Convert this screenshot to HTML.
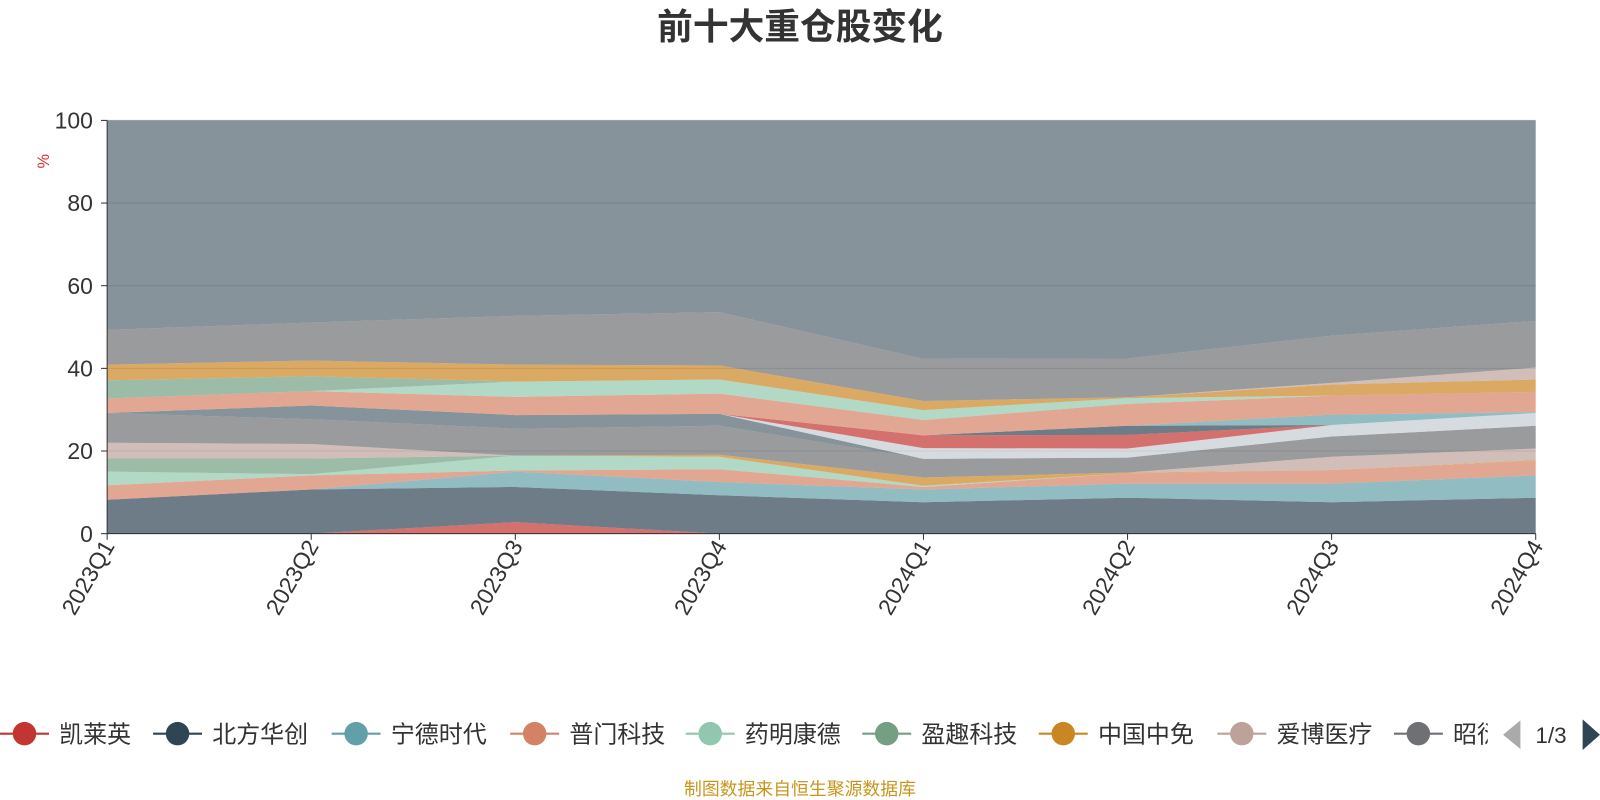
<!DOCTYPE html>
<html><head><meta charset="utf-8">
<style>
body{margin:0;width:1600px;height:800px;background:#fff;overflow:hidden;font-family:"Liberation Sans","Noto Sans CJK SC",sans-serif;}
svg{position:absolute;left:0;top:0}
</style></head>
<body>
<svg id="chart" width="1600" height="800">
<g transform="scale(1.0204)">
<text x="784" y="38" text-anchor="middle" font-size="35" font-weight="bold" fill="#333">前十大重仓股变化</text>
<text x="0" y="0" transform="translate(48,158) rotate(-90)" text-anchor="middle" font-size="16" fill="#e03030">%</text>
<g id="grid"></g>
<g id="areas"></g>
<g id="axes"></g>
<g id="legend"></g>
<text x="784" y="779" text-anchor="middle" font-size="17.5" fill="#c8961e">制图数据来自恒生聚源数据库</text>
</g>
</svg>
<script>
const categories=["2023Q1","2023Q2","2023Q3","2023Q4","2024Q1","2024Q2","2024Q3","2024Q4"];
const yTicks=[0,20,40,60,80,100];
const seriesNames=["凯莱英","北方华创","宁德时代","普门科技","药明康德","盈趣科技","中国中免","爱博医疗","昭衍新药","股票10","股票11","股票12","股票13","股票14","股票15","股票16","股票17","股票18","股票19","股票20","其他"];
const s1=[0,0,2.8,0,0,0,0,0];
const s2=[8.2,10.7,8.5,9.3,7.6,8.7,7.6,8.7];
const s3=[0,0,3.7,3.2,3.1,3.4,4.5,5.4];
const s4=[3.5,3.4,0.3,3.1,0.6,2.5,3.3,3.5];
const s5=[3.3,0.3,3.6,3.0,0.3,0,0,0];
const s6=[3.2,3.8,0,0,0,0,0,0];
const s7=[0,0,0,0.5,2.0,0.2,0,0.2];
const s8=[3.8,3.5,0,0,0,0,3.2,2.8];
const s9=[7.2,6.0,6.5,7.0,4.5,3.6,4.9,5.5];
const s10=[0,3.3,3.3,2.9,0,0,0,0];
const s11=[0,0,0,0,2.6,2.2,2.8,3.1];
const s12=[0,0,0,0,3.1,3.3,0,0];
const s13=[0,0,0,0,0,2.2,0,0];
const s14=[0,0,0,0,0,0,2.5,0.2];
const s15=[3.5,3.5,4.4,4.9,3.7,5.3,4.6,4.9];
const s16=[0,0,3.7,3.4,2.4,1.4,0,0];
const s17=[4.4,3.6,0,0,0,0,0,0];
const s18=[3.8,3.8,4.1,3.4,2.2,0.2,2.7,3.0];
const s19=[0,0,0,0,0,0,0.4,2.9];
const s20=[8.4,9.2,11.8,12.9,10.2,9.4,11.4,11.3];
const s21=[50.7,48.9,47.3,46.4,57.7,57.6,52.1,48.5];
const seriesValues=[s1,s2,s3,s4,s5,s6,s7,s8,s9,s10,s11,s12,s13,s14,s15,s16,s17,s18,s19,s20,s21];
const palette=["#c23531","#2f4554","#61a0a8","#d48265","#91c7ae","#749f83","#ca8622","#bda29a","#6e7074","#546570","#c4ccd3"];
const NS="http://www.w3.org/2000/svg";
const X0=105,X1=1505,Y0=523,Y1=118;
function xs(i){return X0+i*(X1-X0)/(categories.length-1);}
function ys(v){return Y0-(v/100)*(Y0-Y1);}
function mk(tag,attrs,parent){const e=document.createElementNS(NS,tag);for(const k in attrs)e.setAttribute(k,attrs[k]);parent.appendChild(e);return e;}
const grid=document.getElementById('grid'),areas=document.getElementById('areas'),axes=document.getElementById('axes'),legend=document.getElementById('legend');
yTicks.forEach(t=>{
  const l=mk('line',{x1:X0,x2:X1,y1:ys(t),y2:ys(t),stroke:'#ccc','stroke-width':1},grid);
  
  
  const tx=mk('text',{x:X0-14,y:ys(t)+8,'text-anchor':'end','font-size':22.5,fill:'#333'},axes);
  tx.textContent=t;
  
  
  const tk=mk('line',{x1:X0-6,x2:X0,y1:ys(t),y2:ys(t),stroke:'#333','stroke-width':1},axes);
  
  
});
let base=categories.map(()=>0);
seriesValues.forEach((vals,si)=>{
  const top=vals.map((v,i)=>base[i]+v);
  let d='M'+categories.map((c,i)=>xs(i)+','+ys(top[i])).join(' L');
  for(let i=categories.length-1;i>=0;i--)d+=' L'+xs(i)+','+ys(base[i]);
  d+=' Z';
  const p=mk('path',{d:d,fill:palette[si%palette.length],'fill-opacity':0.7,stroke:'none'},areas);
  
  
  base=top;
});
const ax=mk('line',{x1:X0,x2:X0,y1:Y1,y2:Y0,stroke:'#333','stroke-width':1},axes);


const bx=mk('line',{x1:X0,x2:X1,y1:Y0,y2:Y0,stroke:'#333','stroke-width':1},axes);


categories.forEach((c,i)=>{
  const tk=mk('line',{x1:xs(i),x2:xs(i),y1:Y0,y2:Y0+6,stroke:'#333'},axes);
  
  
  const t=mk('text',{x:0,y:0,transform:'translate('+(xs(i)+8)+','+(Y0+12)+') rotate(-60)','text-anchor':'end','font-size':22.5,fill:'#333'},axes);
  t.textContent=c;
  
  
});
const lx=[0,150,325,500,672,845,1018,1193,1366];
const clip=mk('clipPath',{id:'lgclip'},legend);
mk('rect',{x:0,y:690,width:1458,height:60},clip);
const lg=mk('g',{'clip-path':'url(#lgclip)'},legend);
lx.forEach((x,i)=>{
  const g=mk('g',{},lg);
  
  
  const col=palette[i];
  mk('line',{x1:x,x2:x+48,y1:719,y2:719,stroke:col,'stroke-width':2},g);
  mk('circle',{cx:x+24,cy:719,r:11.5,fill:col},g);
  const t=mk('text',{x:x+58,y:727.5,'font-size':23.5,fill:'#333'},g);
  t.textContent=seriesNames[i];
});
const pl=mk('path',{d:'M1490,706 L1473,720 L1490,734 Z',fill:'#aaa'},legend);


const pt=mk('text',{x:1520,y:728,'text-anchor':'middle','font-size':22,fill:'#333'},legend);
pt.textContent='1/3';


const pn=mk('path',{d:'M1551,705 L1568,720 L1551,735 Z',fill:'#2f4554'},legend);


</script>
</body></html>
